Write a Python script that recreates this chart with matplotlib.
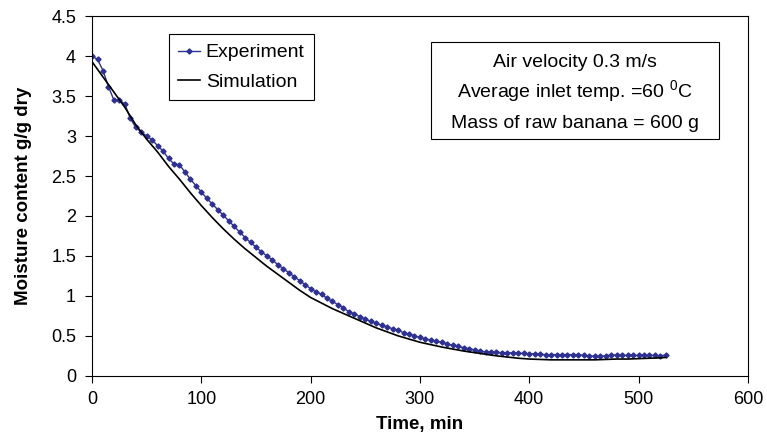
import matplotlib
matplotlib.use("Agg")
import matplotlib.pyplot as plt
from matplotlib.patches import Rectangle

plt.rcParams['font.family'] = ['Liberation Sans', 'DejaVu Sans']
plt.rcParams['mathtext.default'] = 'regular'

# experiment, every 5 min
exp_time = [0, 5, 10, 15, 20, 25, 30, 35, 40, 45, 50, 55, 60, 65, 70, 75, 80, 85, 90, 95,
            100, 105, 110, 115, 120, 125, 130, 135, 140, 145, 150, 155, 160, 165, 170, 175,
            180, 185, 190, 195, 200, 205, 210, 215, 220, 225, 230, 235, 240, 245, 250, 255,
            260, 265, 270, 275, 280, 285, 290, 295, 300, 305, 310, 315, 320, 325, 330, 335,
            340, 345, 350, 355, 360, 365, 370, 375, 380, 385, 390, 395, 400, 405, 410, 415,
            420, 425, 430, 435, 440, 445, 450, 455, 460, 465, 470, 475, 480, 485, 490, 495,
            500, 505, 510, 515, 520, 525]
exp_moist = [4.00, 3.96, 3.82, 3.62, 3.45, 3.45, 3.40, 3.22, 3.11, 3.05, 3.00, 2.95, 2.88, 2.81,
             2.72, 2.65, 2.64, 2.55, 2.46, 2.38, 2.30, 2.22, 2.15, 2.08, 2.01, 1.94, 1.87, 1.80,
             1.73, 1.67, 1.61, 1.55, 1.50, 1.45, 1.39, 1.34, 1.29, 1.24, 1.19, 1.14, 1.09, 1.05,
             1.02, 0.97, 0.93, 0.89, 0.85, 0.80, 0.775, 0.74, 0.71, 0.68, 0.66, 0.63, 0.61, 0.59,
             0.57, 0.54, 0.52, 0.50, 0.48, 0.46, 0.45, 0.43, 0.42, 0.40, 0.38, 0.37, 0.35, 0.34,
             0.325, 0.31, 0.30, 0.30, 0.295, 0.29, 0.29, 0.285, 0.28, 0.28, 0.275, 0.275, 0.27,
             0.265, 0.265, 0.265, 0.265, 0.265, 0.265, 0.265, 0.255, 0.25, 0.245, 0.245, 0.25,
             0.26, 0.26, 0.255, 0.255, 0.255, 0.255, 0.255, 0.255, 0.255, 0.25, 0.26]

# simulation
sim_time = [0, 10, 20, 30, 40, 50, 60, 70, 80, 90, 100, 110, 120, 130, 140, 150, 160, 170,
            180, 190, 200, 210, 220, 230, 240, 250, 260, 270, 280, 290, 300, 310, 320, 330,
            340, 350, 360, 370, 380, 390, 400, 410, 420, 430, 440, 450, 460, 470, 480, 490,
            500, 510, 520, 525]
sim_moist = [3.93, 3.74, 3.55, 3.36, 3.14, 2.96, 2.80, 2.62, 2.46, 2.29, 2.13, 1.98, 1.84,
             1.71, 1.59, 1.48, 1.37, 1.27, 1.17, 1.07, 0.98, 0.91, 0.84, 0.78, 0.72, 0.66,
             0.60, 0.55, 0.50, 0.46, 0.42, 0.39, 0.36, 0.335, 0.31, 0.29, 0.27, 0.25, 0.235,
             0.22, 0.21, 0.205, 0.20, 0.20, 0.20, 0.20, 0.20, 0.205, 0.21, 0.21, 0.215, 0.22,
             0.225, 0.23]

info_lines = ['Air velocity 0.3 m/s', 'Average inlet temp. =60 $^{0}$C', 'Mass of raw banana = 600 g']

fig = plt.figure(figsize=(7.67, 4.37), dpi=100)
ax = fig.add_axes([0.12, 0.14, 0.855, 0.823])

ax.plot(exp_time, exp_moist, color='#2E3192', lw=1, marker='D', ms=2.6, label='Experiment')
ax.plot(sim_time, sim_moist, color='black', lw=1.2, label='Simulation')

ax.set_xlim(0, 600)
ax.set_ylim(0, 4.5)
ax.set_xticks([0, 100, 200, 300, 400, 500, 600])
ax.set_yticks([0, 0.5, 1, 1.5, 2, 2.5, 3, 3.5, 4, 4.5])
ax.set_yticklabels(['0', '0.5', '1', '1.5', '2', '2.5', '3', '3.5', '4', '4.5'])
ax.tick_params(direction='out', labelsize=13, length=5)
ax.tick_params(axis='x', pad=6)
ax.tick_params(axis='y', pad=6.5)
ax.set_xlabel('Time, min', fontsize=13.5, fontweight='bold', labelpad=6)
ax.set_ylabel('Moisture content g/g dry', fontsize=13.5, fontweight='bold', labelpad=14)

leg = ax.legend(loc='upper left', bbox_to_anchor=(0.117, 0.95), borderaxespad=0, fontsize=14,
                fancybox=False, edgecolor='black', framealpha=1, handlelength=1.1,
                borderpad=0.5, labelspacing=0.6, handletextpad=0.3)
leg.get_frame().set_linewidth(0.8)

# info box
ax.add_patch(Rectangle((0.517, 0.658), 0.439, 0.27, transform=ax.transAxes,
                       facecolor='white', edgecolor='black', lw=0.8, zorder=5))
for line, yb in zip(info_lines, [0.858, 0.774, 0.69]):
    ax.text(0.736, yb, line, transform=ax.transAxes, ha='center', va='baseline',
            fontsize=14, zorder=6)

fig.savefig('out.png', dpi=100)
